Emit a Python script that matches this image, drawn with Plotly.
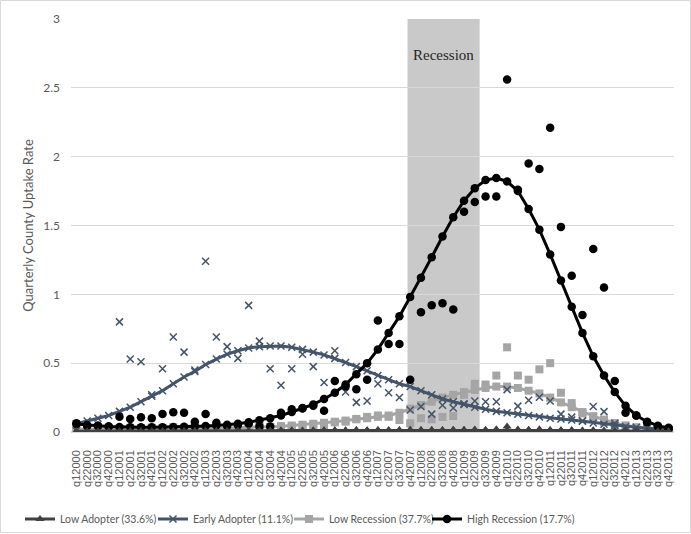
import plotly.graph_objects as go

# ---- categories (quarters) ----
years = list(range(2000, 2014))
quarters = [f"q{q}{y}" for y in years for q in (1, 2, 3, 4)]

# ---- Low Adopter (33.6%) ----
la_fit = [0.005, 0.005, 0.005, 0.005, 0.005, 0.005, 0.005, 0.006, 0.006, 0.006,
          0.006, 0.007, 0.007, 0.007, 0.008, 0.008, 0.008, 0.009, 0.009, 0.010,
          0.010, 0.010, 0.011, 0.011, 0.012, 0.012, 0.012, 0.013, 0.013, 0.013,
          0.014, 0.014, 0.014, 0.014, 0.015, 0.015, 0.015, 0.015, 0.015, 0.015,
          0.015, 0.014, 0.014, 0.013, 0.013, 0.012, 0.011, 0.010, 0.010, 0.009,
          0.008, 0.007, 0.006, 0.005, 0.005, 0.004]
la_raw = [0.003, 0.002, 0.003, 0.004, 0.004, 0.006, 0.005, 0.006, 0.007, 0.005,
          0.008, 0.006, 0.009, 0.007, 0.008, 0.010, 0.009, 0.008, 0.011, 0.010,
          0.012, 0.009, 0.011, 0.013, 0.012, 0.010, 0.014, 0.012, 0.015, 0.013,
          0.012, 0.016, 0.014, 0.015, 0.013, 0.017, 0.016, 0.018, 0.015, 0.020,
          0.040, 0.018, 0.016, 0.020, 0.015, 0.012, 0.014, 0.010, 0.012, 0.009,
          0.008, 0.007, 0.006, 0.006, 0.004, 0.003]

# ---- Early Adopter (11.1%) ----
ea_fit = [0.060, 0.080, 0.100, 0.120, 0.150, 0.180, 0.220, 0.260, 0.300, 0.350,
          0.400, 0.440, 0.490, 0.530, 0.565, 0.590, 0.610, 0.620, 0.625, 0.625,
          0.615, 0.600, 0.580, 0.560, 0.535, 0.505, 0.475, 0.445, 0.410, 0.380,
          0.350, 0.330, 0.300, 0.270, 0.240, 0.220, 0.200, 0.180, 0.165, 0.150,
          0.140, 0.130, 0.120, 0.110, 0.100, 0.095, 0.087, 0.078, 0.066, 0.056,
          0.048, 0.040, 0.034, 0.028, 0.023, 0.019]
ea_raw = [0.010, 0.005, 0.005, 0.005, 0.800, 0.530, 0.510, 0.270, 0.460, 0.690,
          0.580, 0.450, 1.240, 0.690, 0.620, 0.535, 0.920, 0.660, 0.460, 0.340,
          0.460, 0.565, 0.475, 0.360, 0.590, 0.290, 0.215, 0.225, 0.350, 0.285,
          0.250, 0.160, 0.185, 0.130, 0.195, 0.175, 0.205, 0.225, 0.220, 0.220,
          0.308, 0.188, 0.230, 0.253, 0.225, 0.130, 0.108, 0.082, 0.185, 0.148,
          0.063, 0.020, 0.010, 0.010, 0.010, 0.010]

# ---- Low Recession (37.7%) ----
lr_fit = [0.020, 0.020, 0.020, 0.020, 0.020, 0.021, 0.021, 0.021, 0.022, 0.022,
          0.023, 0.024, 0.025, 0.026, 0.028, 0.030, 0.032, 0.035, 0.038, 0.042,
          0.047, 0.053, 0.060, 0.067, 0.075, 0.083, 0.092, 0.100, 0.110, 0.120,
          0.140, 0.170, 0.196, 0.220, 0.250, 0.270, 0.290, 0.305, 0.320, 0.330,
          0.330, 0.320, 0.300, 0.280, 0.250, 0.215, 0.180, 0.145, 0.115, 0.090,
          0.065, 0.048, 0.035, 0.025, 0.020, 0.015]
lr_raw = [0.005, 0.005, 0.005, 0.005, 0.025, 0.030, 0.028, 0.032, 0.030, 0.035,
          0.030, 0.033, 0.028, 0.035, 0.032, 0.038, 0.035, 0.040, 0.036, 0.042,
          0.040, 0.045, 0.048, 0.050, 0.070, 0.075, 0.095, 0.110, 0.120, 0.110,
          0.087, 0.063, 0.100, 0.092, 0.110, 0.116, 0.270, 0.350, 0.345, 0.410,
          0.615, 0.410, 0.380, 0.455, 0.500, 0.285, 0.210, 0.135, 0.110, 0.070,
          0.050, 0.030, 0.025, 0.020, 0.020, 0.015]

# ---- High Recession (17.7%) ----
hr_fit = [0.058, 0.050, 0.045, 0.040, 0.037, 0.035, 0.034, 0.034, 0.035, 0.036,
          0.038, 0.040, 0.043, 0.047, 0.052, 0.060, 0.070, 0.085, 0.100, 0.120,
          0.145, 0.170, 0.200, 0.240, 0.285, 0.345, 0.420, 0.500, 0.600, 0.720,
          0.840, 0.980, 1.120, 1.270, 1.420, 1.560, 1.680, 1.770, 1.830, 1.845,
          1.820, 1.750, 1.620, 1.470, 1.290, 1.100, 0.910, 0.720, 0.550, 0.410,
          0.290, 0.190, 0.120, 0.075, 0.046, 0.030]
hr_raw = [0.063, 0.046, 0.046, 0.040, 0.110, 0.095, 0.107, 0.100, 0.130, 0.143,
          0.140, 0.075, 0.130, 0.068, 0.044, 0.050, 0.060, 0.040, 0.040, 0.140,
          0.165, 0.175, 0.190, 0.155, 0.370, 0.330, 0.310, 0.380, 0.810, 0.640,
          0.640, 0.380, 0.870, 0.920, 0.935, 0.890, 1.600, 1.670, 1.710, 1.710,
          2.560, 1.760, 1.950, 1.910, 2.210, 1.490, 1.135, 0.850, 1.330, 1.050,
          0.370, 0.140, 0.120, 0.070, 0.040, 0.020]

# ---- recession band (category index units) ----
recession_x0 = 30.75
recession_x1 = 37.45

C_LA = "#404040"
C_EA = "#44546A"
C_LR = "#A5A5A5"
C_HR = "#000000"
TXT = "#595959"
W, H = 691, 534

fig = go.Figure()

def add_pair(raw, fit, name, color, symbol, size, legend_id):
    mk = dict(symbol=symbol, size=size, color=color)
    if symbol.startswith("x-thin"):
        mk = dict(symbol=symbol, size=size, color=color, line=dict(color=color, width=1.5))
    fig.add_trace(go.Scatter(x=quarters, y=raw, mode="markers", marker=mk,
                             showlegend=False, hoverinfo="skip"))
    fig.add_trace(go.Scatter(x=quarters, y=fit, mode="lines+markers", name=name,
                             line=dict(color=color, width=3), marker=dict(mk),
                             legend=legend_id))

add_pair(lr_raw, lr_fit, "Low Recession (37.7%)", C_LR, "square", 8, "legend3")
add_pair(ea_raw, ea_fit, "Early Adopter (11.1%)", C_EA, "x-thin-open", 7, "legend2")
add_pair(hr_raw, hr_fit, "High Recession (17.7%)", C_HR, "circle", 8.5, "legend4")
add_pair(la_raw, la_fit, "Low Adopter (33.6%)", C_LA, "triangle-up", 8, "legend")

fig.add_shape(type="rect", xref="x", yref="y", x0=recession_x0, x1=recession_x1,
              y0=0, y1=3, fillcolor="#C9C9C9", line=dict(width=0), layer="below")
fig.add_annotation(x=(recession_x0 + recession_x1) / 2, xref="x", y=0.937, yref="paper",
                   text="Recession", showarrow=False,
                   font=dict(family="Liberation Serif, Times New Roman, serif", size=15,
                             color="#262626"))

# chart-area border
fig.add_shape(type="rect", xref="paper", yref="paper",
              x0=-0.1169, x1=1.0274, y0=-0.2433, y1=1.0448,
              line=dict(color="#D9D9D9", width=1), fillcolor="rgba(0,0,0,0)")

def leg(px_left):
    return dict(orientation="h", xref="container", yref="container",
                x=px_left / W, xanchor="left", y=(H - 519) / H, yanchor="middle",
                font=dict(family="Lato, sans-serif", size=10.5, color=TXT),
                itemwidth=30, bgcolor="rgba(0,0,0,0)")

fig.update_layout(
    width=W, height=H,
    margin=dict(l=71, r=17, t=19, b=102),
    paper_bgcolor="white", plot_bgcolor="white",
    showlegend=True,
    legend=leg(20), legend2=leg(153), legend3=leg(289), legend4=leg(427),
    xaxis=dict(type="category", tickangle=-90, showgrid=False, showline=False,
               ticks="", ticklabelstandoff=15, automargin=False,
               tickmode="array", tickvals=quarters, ticktext=quarters,
               tickfont=dict(family="Liberation Sans, Arial, sans-serif", size=11, color=TXT),
               range=[-0.5, len(quarters) - 0.5]),
    yaxis=dict(range=[0, 3], dtick=0.5, showgrid=True, gridcolor="#D9D9D9", gridwidth=1,
               zeroline=True, zerolinecolor="#D9D9D9", showline=False, ticks="",
               ticklabelstandoff=10, automargin=False,
               tickfont=dict(family="Lato, sans-serif", size=12, color=TXT),
               title=dict(text="Quarterly County Uptake Rate", standoff=6,
                          font=dict(family="Lato, sans-serif", size=13, color=TXT))),
)

fig.write_html("out.html", config={"displayModeBar": False},
               post_script="document.body.style.margin='0';")
